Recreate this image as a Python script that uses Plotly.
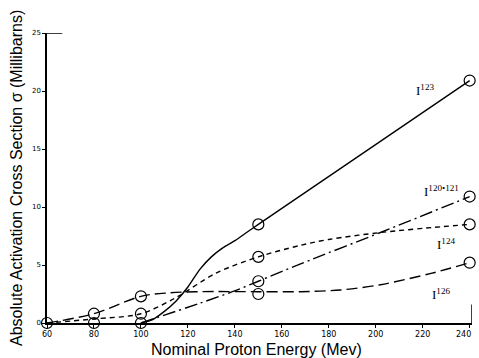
import plotly.graph_objects as go

# Marker (measured) points
i123_x = [150, 240]
i123_y = [8.5, 20.9]
i124_x = [100, 150, 240]
i124_y = [0.8, 5.7, 8.5]
i126_x = [80, 100, 150, 240]
i126_y = [0.8, 2.3, 2.5, 5.2]
i120_x = [150, 240]
i120_y = [3.6, 10.9]
zero_x = [60, 80, 100]
zero_y = [0, 0, 0]

# Hand-drawn fitted curves
c123_x = [100, 105, 110, 115, 120, 125, 130, 135, 140, 145, 150, 240]
c123_y = [0, 0.3, 1.0, 1.9, 3.1, 4.6, 5.7, 6.5, 7.1, 7.8, 8.5, 20.9]
c124_x = [60, 80, 100, 115, 132, 150, 168, 180, 202, 228, 240]
c124_y = [0, 0.35, 0.8, 2.2, 4.3, 5.7, 6.7, 7.2, 7.8, 8.3, 8.5]
c126_x = [60, 80, 100, 112, 125, 150, 168, 185, 202, 224, 240]
c126_y = [0, 0.8, 2.3, 2.6, 2.7, 2.7, 2.7, 2.85, 3.3, 4.3, 5.2]
c120_x = [100, 125, 139, 150, 168, 202, 240]
c120_y = [0, 1.7, 2.7, 3.6, 5.1, 7.8, 10.9]

x_ticks = [60, 80, 100, 120, 140, 160, 180, 200, 220, 240]
y_ticks = [0, 5, 10, 15, 20, 25]

labels = ["I<sup>123</sup>", "I<sup>120\u2022121</sup>", "I<sup>124</sup>", "I<sup>126</sup>"]
label_x = [221, 228, 229.8, 228]
label_y = [20.1, 11.4, 6.8, 2.5]

BLACK = "black"
fig = go.Figure()

def curve(x, y, dash, smoothing=0.9, width=1.4):
    fig.add_trace(go.Scatter(x=x, y=y, mode="lines", line=dict(color=BLACK, width=width, dash=dash,
                             shape="spline", smoothing=smoothing), cliponaxis=False, hoverinfo="skip"))

curve(c123_x, c123_y, "solid", smoothing=0.6)
curve(c124_x, c124_y, "5px,4px")
curve(c126_x, c126_y, "11px,5px")
curve(c120_x, c120_y, "13px,4px,2px,4px")

for xs, ys in [(i123_x, i123_y), (i124_x, i124_y), (i126_x, i126_y), (i120_x, i120_y), (zero_x, zero_y)]:
    fig.add_trace(go.Scatter(x=xs, y=ys, mode="markers", cliponaxis=False,
                             marker=dict(symbol="circle-open", size=11, color=BLACK, line=dict(width=1.2)),
                             hoverinfo="skip"))

for t, lx, ly in zip(labels, label_x, label_y):
    fig.add_annotation(x=lx, y=ly, text=t, showarrow=False, xanchor="center", yanchor="middle",
                       font=dict(family="Liberation Serif", size=13, color=BLACK))

# Frame stubs: top-left horizontal and bottom-right vertical
fig.add_shape(type="line", x0=59.2, x1=66.5, y0=25, y1=25, line=dict(color=BLACK, width=1.5))
fig.add_shape(type="line", x0=241, x1=241, y0=0, y1=1.6, line=dict(color=BLACK, width=1.5))

# Axis titles
fig.add_annotation(xref="paper", yref="paper", x=-0.073, y=0.5, textangle=-90, showarrow=False,
                   text="Absolute Activation Cross Section \u03c3 (Millibarns)",
                   font=dict(family="Liberation Sans", size=16, color=BLACK), xanchor="center", yanchor="middle")
fig.add_annotation(xref="paper", yref="paper", x=0.492, y=-0.09, showarrow=False,
                   text="Nominal Proton Energy (Mev)",
                   font=dict(family="Liberation Sans", size=16, color=BLACK), xanchor="center", yanchor="middle")
# last x tick label, shifted left as in the original
fig.add_annotation(xref="x", yref="paper", x=237.3, y=-0.041, showarrow=False, text="240",
                   font=dict(family="DejaVu Sans", size=8, color=BLACK), xanchor="center", yanchor="middle")

fig.update_layout(
    width=479, height=358, margin=dict(l=47, r=7, t=33, b=35),
    paper_bgcolor="white", plot_bgcolor="white", showlegend=False,
    xaxis=dict(range=[60, 241], tickvals=x_ticks, ticktext=[str(v) if v != 240 else "" for v in x_ticks],
               showgrid=False, zeroline=False, showline=True, linecolor=BLACK, linewidth=1.5,
               ticks="outside", ticklen=3, tickcolor=BLACK,
               tickfont=dict(family="DejaVu Sans", size=8, color=BLACK)),
    yaxis=dict(range=[0, 25], tickvals=y_ticks, ticktext=[str(v) for v in y_ticks],
               showgrid=False, zeroline=False, showline=True, linecolor=BLACK, linewidth=1.5,
               ticks="outside", ticklen=3, tickcolor=BLACK,
               tickfont=dict(family="DejaVu Sans", size=7, color=BLACK)),
)

fig.write_html("out.html", config={"displayModeBar": False},
               post_script="document.body.style.margin='0';document.body.style.overflow='hidden';")
